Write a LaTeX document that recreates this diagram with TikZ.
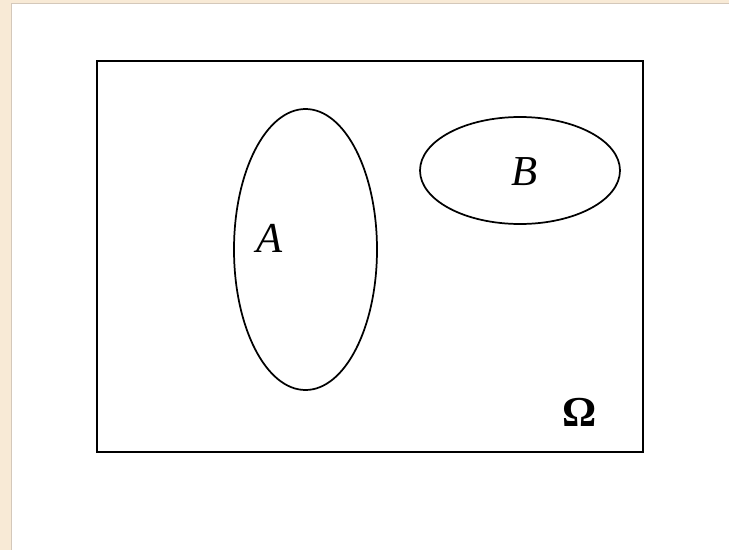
\documentclass[tikz,border=0pt]{standalone}
\usepackage{fontspec}
\setmainfont{Liberation Serif}
\usetikzlibrary{shapes.geometric}
\definecolor{paper}{RGB}{248,234,214}
\definecolor{edge}{RGB}{212,200,186}

\begin{document}
\begin{tikzpicture}[x=0.75pt,y=-0.75pt,
  every node/.style={font=\fontsize{32}{36}\selectfont},
  set/.style={ellipse,draw=black,line width=1.3pt,inner sep=0pt}]
  \useasboundingbox (0,0) rectangle (729,550);
  \fill[paper] (0,0) rectangle (729,550);
  \draw[edge,fill=white,line width=1pt] (11.5,3.5) rectangle (740,560);
  \node[draw=black,line width=1.7pt,minimum width=546*0.75pt,minimum height=391*0.75pt,inner sep=0pt] (omega) at (370,256.5) {};
  \node[set,minimum width=143*0.75pt,minimum height=281*0.75pt] (a) at (305.5,249.5) {};
  \node[set,minimum width=200*0.75pt,minimum height=107*0.75pt] (b) at (520,170.5) {};
  \node (la) at (270,238) {\itshape A};
  \node (lb) at (525,172) {\itshape B};
  \node (lo) at (580,412) {\bfseries Ω};
\end{tikzpicture}
\end{document}
